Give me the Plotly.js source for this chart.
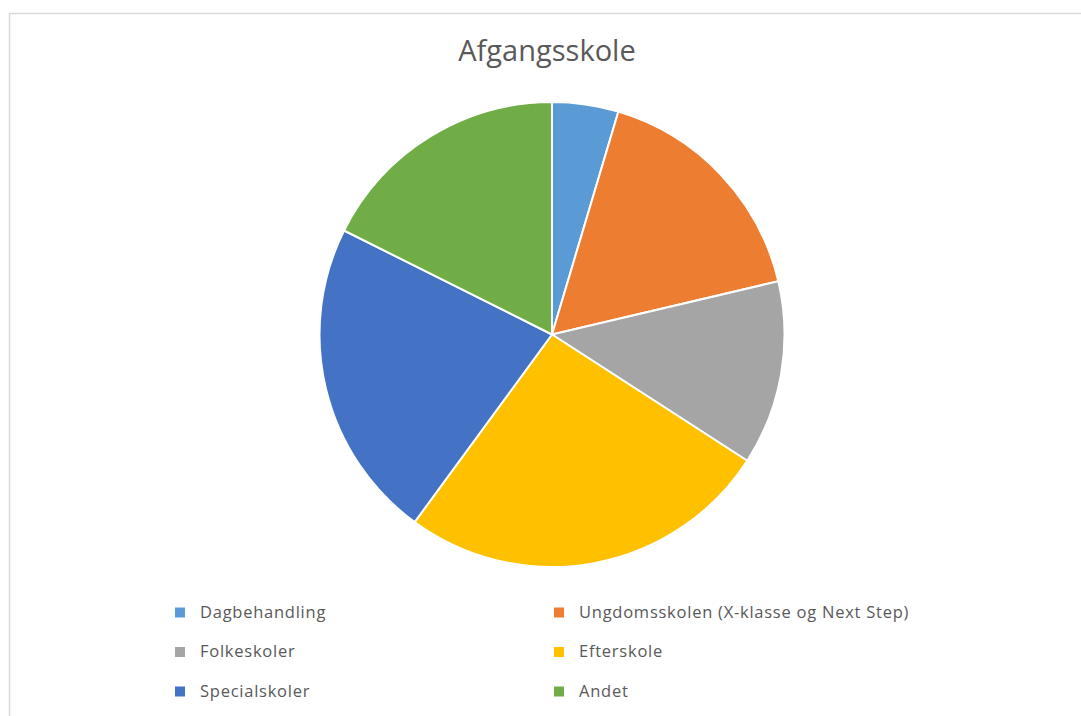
<!DOCTYPE html>
<html>
<head>
<meta charset="utf-8">
<script src="https://cdn.plot.ly/plotly-3.0.1.min.js"></script>
<style>html,body{margin:0;padding:0;background:#fff;}#chart{width:1081px;height:716px;}</style>
</head>
<body>
<div id="chart"></div>
<script>
const categories = ["Dagbehandling", "Ungdomsskolen (X-klasse og Next Step)", "Folkeskoler", "Efterskole", "Specialskoler", "Andet"];
const shares = [4.6, 16.7, 12.8, 25.9, 22.3, 17.6];
const sliceColors = ["#5B9BD5", "#ED7D31", "#A5A5A5", "#FFC000", "#4472C4", "#70AD47"];
const chartTitle = "Afgangsskole";

const legendLabels = categories.map(c => '<span style="font-size:16.5px;letter-spacing:0.75px">' + c + '</span><br>\u00a0');

const trace = {
  type: 'pie',
  labels: legendLabels,
  values: shares,
  sort: false,
  direction: 'clockwise',
  rotation: 0,
  textinfo: 'none',
  hoverinfo: 'none',
  marker: {colors: sliceColors, line: {color: '#ffffff', width: 2}},
  domain: {x: [319/1081, 785/1081], y: [149/716, 614/716]}
};

const layout = {
  width: 1081, height: 716,
  margin: {l: 0, r: 0, t: 0, b: 0, autoexpand: false},
  paper_bgcolor: '#ffffff',
  font: {family: '"Open Sans", "Noto Sans", sans-serif', color: '#595959'},
  title: {text: chartTitle, x: 0.506, xanchor: 'center', y: 1 - 51/716, yanchor: 'middle', yref: 'container',
          font: {size: 29, color: '#595959', family: '"Open Sans", "Noto Sans", sans-serif'}},
  showlegend: true,
  legend: {orientation: 'h', x: 0.148, xanchor: 'left', y: 1 - 597/716, yanchor: 'top',
           entrywidth: 334, entrywidthmode: 'pixels', valign: 'top', traceorder: 'normal',
           font: {size: 14, color: '#595959'}, bgcolor: 'rgba(0,0,0,0)'},
  shapes: [{type: 'rect', xref: 'paper', yref: 'paper', x0: 9.5/1081, x1: 1.02, y0: -0.05, y1: 1 - 13.5/716,
            line: {color: '#d9d9d9', width: 1.5}, fillcolor: 'rgba(0,0,0,0)', layer: 'below'}]
};

Plotly.newPlot('chart', [trace], layout, {displayModeBar: false, staticPlot: true});
</script>
</body>
</html>
